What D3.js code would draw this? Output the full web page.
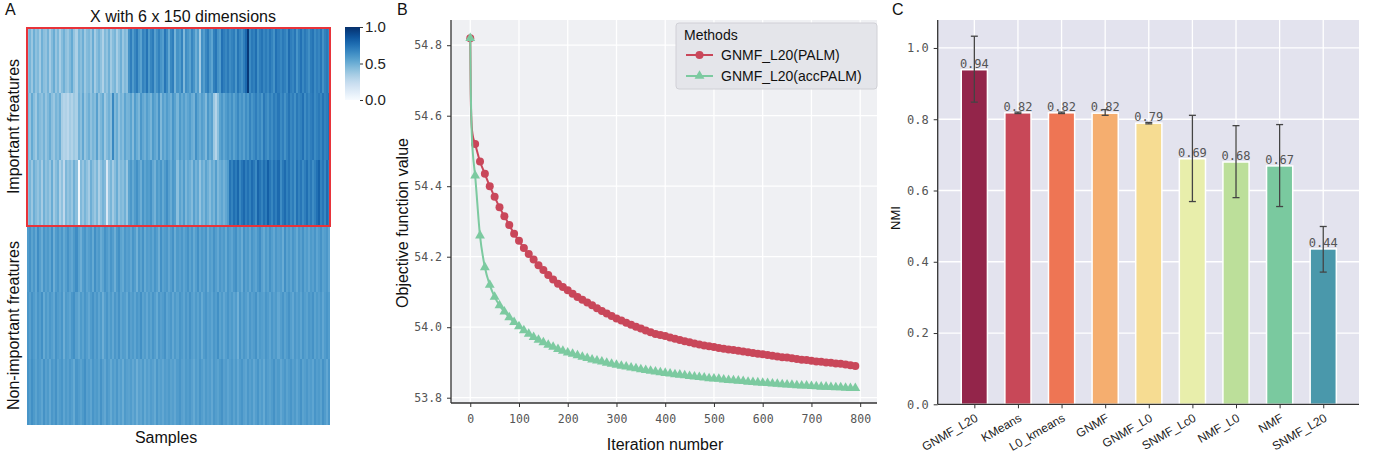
<!DOCTYPE html>
<html><head><meta charset="utf-8">
<script src="https://cdn.jsdelivr.net/npm/d3@7"></script>
<style>
body{margin:0;background:#fff;}
svg{display:block;font-family:"Liberation Sans",Arial,sans-serif;}
</style>
</head><body>
<svg id="c" width="1374" height="460"></svg>
<script>
// ---------- Panel A data: 6 features x 150 samples ----------
const heatRow1 = [.43,.47,.38,.50,.41,.45,.36,.49,.42,.40,.48,.35,.44,.51,.39,.46,.34,.43,.49,.41,.38,.45,.52,.40,.33,.47,.42,.50,.37,.44,.46,.39,.51,.35,.43,.48,.41,.32,.45,.40,.49,.36,.43,.47,.34,.42,.50,.38,.45,.41,
.62,.70,.58,.66,.72,.60,.55,.68,.64,.74,.59,.67,.71,.56,.63,.69,.61,.57,.73,.65,.52,.66,.70,.48,.62,.58,.68,.45,.64,.60,.55,.67,.61,.50,.58,.36,.63,.57,.66,.71,.60,.54,.69,.73,.62,.58,.75,.70,.66,.72,
.64,.68,.71,.60,.74,.67,.62,.70,.78,.97,.65,.72,.69,.76,.63,.70,.74,.67,.71,.66,.73,.68,.62,.75,.70,.66,.72,.69,.64,.77,.70,.67,.73,.61,.69,.75,.66,.72,.68,.63,.71,.74,.65,.70,.67,.73,.62,.69,.72,.66];
const heatRow2 = [.46,.40,.52,.43,.37,.49,.44,.41,.48,.39,.45,.51,.42,.38,.47,.43,.50,.34,.30,.32,.28,.35,.31,.37,.33,.48,.42,.53,.39,.45,.50,.41,.47,.43,.56,.40,.46,.52,.37,.44,.49,.42,.66,.45,.51,.40,.48,.43,.54,.47,
.48,.55,.44,.58,.51,.46,.60,.53,.49,.57,.52,.47,.59,.54,.50,.62,.45,.56,.51,.58,.53,.49,.61,.55,.47,.59,.52,.57,.50,.54,.58,.51,.48,.63,.55,.50,.57,.53,.45,.60,.52,.56,.38,.30,.42,.55,.60,.53,.58,.62,
.57,.63,.55,.60,.66,.58,.62,.56,.64,.59,.68,.61,.65,.70,.63,.67,.60,.72,.66,.62,.69,.64,.71,.67,.73,.65,.70,.62,.68,.74,.66,.70,.63,.72,.67,.69,.75,.64,.71,.66,.70,.73,.65,.69,.72,.67,.74,.68,.71,.75];
const heatRow3 = [.42,.47,.38,.50,.44,.40,.46,.35,.49,.41,.45,.39,.51,.36,.43,.48,.33,.41,.27,.46,.40,.44,.38,.49,.42,.04,.45,.39,.47,.41,.35,.50,.43,.38,.46,.33,.41,.48,.44,.15,.40,.47,.36,.43,.51,.39,.45,.42,.49,.38,
.55,.60,.52,.58,.63,.56,.50,.61,.54,.59,.57,.62,.53,.48,.59,.55,.61,.52,.58,.64,.56,.51,.60,.57,.42,.55,.49,.58,.46,.53,.50,.44,.56,.48,.53,.40,.51,.46,.55,.49,.43,.52,.47,.57,.45,.50,.54,.48,.53,.58,
.74,.68,.76,.71,.79,.66,.73,.78,.70,.75,.69,.77,.72,.65,.80,.74,.68,.76,.71,.82,.73,.67,.75,.70,.78,.64,.72,.77,.69,.74,.66,.71,.62,.75,.68,.73,.65,.70,.76,.67,.72,.64,.69,.75,.81,.68,.73,.66,.77,.70];
const heatRow4 = [.58,.62,.55,.60,.53,.64,.57,.51,.61,.56,.59,.54,.63,.50,.58,.61,.55,.60,.52,.57,.62,.56,.53,.59,.64,.55,.50,.58,.61,.54,.57,.60,.52,.63,.56,.59,.51,.55,.62,.58,.54,.61,.57,.50,.59,.63,.55,.52,.60,.56,
.58,.53,.61,.57,.49,.60,.55,.62,.52,.58,.56,.59,.54,.61,.57,.50,.63,.55,.58,.60,.53,.57,.62,.51,.59,.56,.60,.54,.58,.62,.55,.60,.52,.57,.63,.54,.59,.56,.61,.51,.58,.55,.62,.57,.53,.60,.56,.59,.52,.61,
.57,.54,.60,.63,.55,.58,.51,.62,.56,.59,.53,.61,.57,.54,.60,.64,.56,.52,.59,.55,.62,.57,.53,.60,.56,.58,.51,.63,.55,.59,.54,.61,.57,.52,.60,.56,.62,.55,.58,.53,.59,.56,.61,.54,.58,.62,.55,.57,.60,.53];
const heatRow5 = [.60,.56,.62,.58,.54,.61,.57,.63,.52,.59,.55,.60,.57,.53,.62,.58,.56,.61,.50,.59,.57,.54,.60,.63,.56,.52,.59,.55,.61,.57,.53,.58,.62,.56,.60,.54,.59,.50,.57,.61,.55,.59,.53,.60,.56,.62,.54,.58,.57,.52,
.61,.56,.59,.54,.60,.57,.63,.55,.58,.53,.59,.55,.61,.57,.52,.60,.56,.58,.62,.54,.57,.60,.53,.59,.55,.61,.58,.54,.60,.56,.62,.57,.54,.59,.55,.60,.52,.58,.61,.56,.58,.54,.60,.57,.63,.55,.59,.53,.57,.61,
.56,.59,.54,.58,.49,.61,.55,.60,.57,.53,.60,.56,.58,.62,.54,.59,.57,.55,.61,.58,.54,.60,.56,.59,.53,.57,.61,.55,.58,.62,.57,.53,.60,.56,.59,.54,.61,.57,.55,.60,.58,.62,.55,.59,.56,.60,.53,.58,.61,.57];
const heatRow6 = [.61,.57,.63,.59,.55,.60,.58,.54,.62,.56,.59,.53,.60,.57,.62,.55,.58,.61,.54,.59,.56,.60,.57,.52,.61,.58,.55,.59,.63,.56,.58,.54,.61,.57,.59,.55,.62,.56,.53,.60,.57,.52,.58,.55,.60,.54,.57,.51,.59,.56,
.55,.58,.53,.57,.50,.56,.54,.59,.52,.57,.54,.58,.56,.52,.60,.55,.57,.53,.58,.56,.59,.55,.57,.53,.58,.61,.56,.54,.59,.57,.60,.56,.52,.58,.55,.61,.57,.54,.59,.56,.58,.53,.60,.57,.55,.59,.62,.56,.58,.54,
.57,.60,.55,.59,.53,.58,.61,.56,.54,.60,.56,.59,.53,.57,.61,.55,.58,.52,.60,.57,.55,.58,.62,.56,.59,.53,.57,.60,.55,.58,.61,.56,.59,.54,.58,.62,.55,.57,.60,.56,.58,.54,.61,.57,.59,.55,.62,.58,.53,.60];
const heatRows = [heatRow1, heatRow2, heatRow3, heatRow4, heatRow5, heatRow6];
const colorbarTicks = [0.0, 0.5, 1.0];

// ---------- Panel B data ----------
const iterations = [0,1,2,3,5,10,20,30,40,50,60,70,80,90,100,110,120,130,140,150,160,170,180,190,200,210,220,230,240,250,260,270,280,290,300,310,320,330,340,350,360,370,380,390,400,410,420,430,440,450,460,470,480,490,500,510,520,530,540,550,560,570,580,590,600,610,620,630,640,650,660,670,680,690,700,710,720,730,740,750,760,770,780,790];
const palmValues = [54.82,54.66,54.60,54.57,54.545,54.52,54.47,54.435,54.40,54.37,54.34,54.315,54.29,54.265,54.245,54.225,54.208,54.192,54.176,54.162,54.148,54.135,54.123,54.114,54.105,54.095,54.086,54.078,54.070,54.062,54.054,54.046,54.039,54.032,54.025,54.019,54.013,54.007,54.001,53.996,53.991,53.986,53.981,53.978,53.975,53.971,53.967,53.964,53.960,53.957,53.954,53.951,53.948,53.946,53.944,53.941,53.939,53.937,53.935,53.933,53.931,53.929,53.927,53.925,53.923,53.921,53.919,53.917,53.915,53.914,53.912,53.910,53.908,53.907,53.905,53.903,53.902,53.900,53.899,53.897,53.896,53.894,53.892,53.890];
const accPalmValues = [54.82,54.68,54.60,54.55,54.50,54.43,54.26,54.17,54.12,54.086,54.062,54.044,54.028,54.014,54.002,53.991,53.981,53.972,53.964,53.957,53.950,53.944,53.938,53.933,53.928,53.924,53.920,53.916,53.912,53.908,53.905,53.902,53.899,53.896,53.893,53.890,53.888,53.885,53.883,53.880,53.878,53.876,53.874,53.872,53.870,53.868,53.866,53.865,53.863,53.861,53.860,53.858,53.857,53.855,53.854,53.853,53.851,53.850,53.849,53.848,53.847,53.845,53.844,53.843,53.842,53.841,53.840,53.839,53.838,53.837,53.836,53.835,53.834,53.834,53.833,53.832,53.831,53.831,53.830,53.829,53.829,53.828,53.827,53.827];
const seriesNames = ["GNMF_L20(PALM)", "GNMF_L20(accPALM)"];
const bXTicks = [0,100,200,300,400,500,600,700,800];
const bYTicks = [53.8,54.0,54.2,54.4,54.6,54.8];

// ---------- Panel C data ----------
const methods = ["GNMF_L20","KMeans","L0_kmeans","GNMF","GNMF_L0","SNMF_Lc0","NMF_L0","NMF","SNMF_L20"];
const nmiValues = [0.939,0.818,0.818,0.817,0.789,0.689,0.680,0.669,0.436];
const nmiLow  = [0.848,0.816,0.816,0.811,0.787,0.569,0.580,0.555,0.371];
const nmiHigh = [1.033,0.820,0.820,0.827,0.791,0.811,0.782,0.785,0.499];
const barColors = ["#93254a","#c84858","#ee7554","#f5ae6f","#f6dc92","#e8eeab","#bcdf9a","#7ac99f","#4a98ab"];
const cYTicks = [0.0,0.2,0.4,0.6,0.8,1.0];

const svg = d3.select("#c");
const monoFont = "'DejaVu Sans Mono','Liberation Mono',monospace";

// Panel letters
[["A",5],["B",397],["C",892]].forEach(([t,x]) => {
  svg.append("text").attr("x",x).attr("y",15).attr("font-size",16).attr("fill","#111").text(t);
});

// ===================== Panel A =====================
const hx = d3.scaleBand().domain(d3.range(150)).range([27,330]);
const hy = d3.scaleBand().domain(d3.range(6)).range([27,425]);
const blues = d3.scaleSequential(d3.interpolateBlues).domain([0,1]);
const gA = svg.append("g");
heatRows.forEach((row, r) => {
  gA.selectAll(null).data(row).enter().append("rect")
    .attr("x",(d,i)=>hx(i)).attr("y",hy(r))
    .attr("width",hx.bandwidth()+0.4).attr("height",hy.bandwidth()+0.4)
    .attr("fill",d=>blues(d)).attr("shape-rendering","crispEdges");
});
gA.append("rect").attr("x",hx(0)).attr("y",hy(0)+1)
  .attr("width",hx.range()[1]-hx(0)).attr("height",hy(3)-hy(0)-1)
  .attr("fill","none").attr("stroke","#e8333a").attr("stroke-width",2);
gA.append("text").attr("x",183).attr("y",22).attr("text-anchor","middle").attr("font-size",16).attr("fill","#111").text("X with 6 x 150 dimensions");
gA.append("text").attr("transform","translate(19,"+((hy(0)+hy(3))/2)+") rotate(-90)").attr("text-anchor","middle").attr("font-size",16).attr("fill","#111").text("Important freatures");
gA.append("text").attr("transform","translate(19,"+((hy(3)+425)/2)+") rotate(-90)").attr("text-anchor","middle").attr("font-size",16).attr("fill","#111").text("Non-important freatures");
gA.append("text").attr("x",166).attr("y",443).attr("text-anchor","middle").attr("font-size",16).attr("fill","#111").text("Samples");

// colorbar
const defs = svg.append("defs");
const grad = defs.append("linearGradient").attr("id","cbg").attr("x1",0).attr("y1",1).attr("x2",0).attr("y2",0);
d3.range(0,1.0001,0.05).forEach(t => grad.append("stop").attr("offset",t).attr("stop-color",blues(t)));
const cbY = d3.scaleLinear().domain([0,1]).range([100,27]);
svg.append("rect").attr("x",345).attr("y",cbY(1)).attr("width",15).attr("height",cbY(0)-cbY(1)).attr("fill","url(#cbg)");
const cbAxis = svg.append("g").attr("transform","translate(360,0)")
  .call(d3.axisRight(cbY).tickValues(colorbarTicks).tickFormat(d3.format(".1f")).tickSize(3));
cbAxis.select(".domain").remove();
cbAxis.selectAll("line").attr("stroke","#333");
cbAxis.selectAll("text").attr("font-size",15).attr("fill","#222").attr("font-family","'Liberation Sans',Arial,sans-serif").attr("x",5);

// ===================== Panel B =====================
const bx = d3.scaleLinear().domain([-39.5,834.5]).range([451,877]);
const by = d3.scaleLinear().domain([53.785,54.8715]).range([403,20]);
const gB = svg.append("g");
gB.append("rect").attr("x",451).attr("y",20).attr("width",877-451).attr("height",403-20).attr("fill","#eff0f3");
gB.selectAll(".vg").data(bXTicks).enter().append("line")
  .attr("x1",d=>bx(d)).attr("x2",d=>bx(d)).attr("y1",20).attr("y2",403).attr("stroke","#fff").attr("stroke-width",1.3);
gB.selectAll(".hg").data(bYTicks).enter().append("line")
  .attr("x1",451).attr("x2",877).attr("y1",d=>by(d)).attr("y2",d=>by(d)).attr("stroke","#fff").attr("stroke-width",1.3);

const palmPts = iterations.map((it,i)=>({x:it,y:palmValues[i]}));
const accPts = iterations.map((it,i)=>({x:it,y:accPalmValues[i]}));
const line = d3.line().x(d=>bx(d.x)).y(d=>by(d.y)).curve(d3.curveMonotoneX);
const redC = "#c9475a", greenC = "#7ccaa0";
gB.append("path").datum(palmPts).attr("d",line).attr("fill","none").attr("stroke",redC).attr("stroke-width",2);
gB.selectAll(".pm").data(palmPts.filter(d=>d.x%10===0)).enter().append("circle")
  .attr("cx",d=>bx(d.x)).attr("cy",d=>by(d.y)).attr("r",4).attr("fill",redC);
gB.append("path").datum(accPts).attr("d",line).attr("fill","none").attr("stroke",greenC).attr("stroke-width",2);
const tri = d3.symbol().type(d3.symbolTriangle).size(42);
gB.selectAll(".am").data(accPts.filter(d=>d.x%10===0)).enter().append("path")
  .attr("d",tri).attr("transform",d=>"translate("+bx(d.x)+","+by(d.y)+")").attr("fill",greenC);

const bxAxis = gB.append("g").attr("transform","translate(0,403)")
  .call(d3.axisBottom(bx).tickValues(bXTicks).tickFormat(d3.format("d")).tickSize(4).tickSizeOuter(0));
const byAxis = gB.append("g").attr("transform","translate(451,0)")
  .call(d3.axisLeft(by).tickValues(bYTicks).tickFormat(d3.format(".1f")).tickSize(4).tickSizeOuter(0));
[bxAxis,byAxis].forEach(a=>{
  a.select(".domain").attr("stroke","#333").attr("stroke-width",1.3);
  a.selectAll("line").attr("stroke","#333");
  a.selectAll("text").attr("font-family",monoFont).attr("font-size",11.5).attr("fill","#555");
});
bxAxis.select(".domain").attr("d","M451,0H877");
byAxis.select(".domain").attr("d","M0,20V403");
bxAxis.selectAll("text").attr("dy","1.1em");
byAxis.selectAll("text").attr("x",-9);
gB.append("text").attr("transform","translate(408,223) rotate(-90)").attr("text-anchor","middle").attr("font-size",16).attr("fill","#111").text("Objective function value");
gB.append("text").attr("x",665).attr("y",450).attr("text-anchor","middle").attr("font-size",16).attr("fill","#111").text("Iteration number");

// legend
const lg = gB.append("g");
lg.append("rect").attr("x",676).attr("y",23).attr("width",201).attr("height",66).attr("rx",3)
  .attr("fill","#e4e5ea").attr("stroke","#d0d0d6");
lg.append("text").attr("x",684).attr("y",40).attr("font-size",14).attr("fill","#111").text("Methods");
[[redC,"c"],[greenC,"t"]].forEach(([col,mk],i)=>{
  const yy = 55 + i*21;
  lg.append("line").attr("x1",686).attr("x2",713).attr("y1",yy).attr("y2",yy).attr("stroke",col).attr("stroke-width",2);
  if (mk==="c") lg.append("circle").attr("cx",699.5).attr("cy",yy).attr("r",4).attr("fill",col);
  else lg.append("path").attr("d",tri).attr("transform","translate(699.5,"+yy+")").attr("fill",col);
  lg.append("text").attr("x",721).attr("y",yy+5).attr("font-size",14).attr("fill","#111").text(seriesNames[i]);
});

// ===================== Panel C =====================
const cx = d3.scaleLinear().domain([-0.84,8.82]).range([937.7,1359]);
const cy = d3.scaleLinear().domain([0,1.0785]).range([404.3,20]);
const gC = svg.append("g");
gC.append("rect").attr("x",937.7).attr("y",20).attr("width",1359-937.7).attr("height",404.3-20).attr("fill","#e3e3ee");
gC.selectAll(".vg").data(methods).enter().append("line")
  .attr("x1",(d,i)=>cx(i)).attr("x2",(d,i)=>cx(i)).attr("y1",20).attr("y2",404.3).attr("stroke","#fff").attr("stroke-width",1.3);
gC.selectAll(".hg").data(cYTicks).enter().append("line")
  .attr("x1",937.7).attr("x2",1359).attr("y1",d=>cy(d)).attr("y2",d=>cy(d)).attr("stroke","#fff").attr("stroke-width",1.3);
const bw = (cx(1)-cx(0))*0.6;
gC.selectAll(".bar").data(nmiValues).enter().append("rect")
  .attr("x",(d,i)=>cx(i)-bw/2).attr("y",d=>cy(d)).attr("width",bw).attr("height",d=>cy(0)-cy(d))
  .attr("fill",(d,i)=>barColors[i]).attr("stroke","#fff").attr("stroke-width",1.5);
// error bars
methods.forEach((m,i)=>{
  const x = cx(i);
  gC.append("line").attr("x1",x).attr("x2",x).attr("y1",cy(nmiLow[i])).attr("y2",cy(nmiHigh[i])).attr("stroke","#444").attr("stroke-width",1.3);
  [nmiLow[i],nmiHigh[i]].forEach(v=>gC.append("line").attr("x1",x-3.5).attr("x2",x+3.5).attr("y1",cy(v)).attr("y2",cy(v)).attr("stroke","#444").attr("stroke-width",1.3));
});
gC.selectAll(".vl").data(nmiValues).enter().append("text")
  .attr("x",(d,i)=>cx(i)).attr("y",d=>cy(d)-2).attr("text-anchor","middle")
  .attr("font-family",monoFont).attr("font-size",12).attr("fill","#555").text(d=>d3.format(".2f")(d));

const cyAxis = gC.append("g").attr("transform","translate(937.7,0)")
  .call(d3.axisLeft(cy).tickValues(cYTicks).tickFormat(d3.format(".1f")).tickSize(4).tickSizeOuter(0));
cyAxis.select(".domain").attr("d","M0,20V404.3").attr("stroke","#333").attr("stroke-width",1.3);
cyAxis.selectAll("line").attr("stroke","#333");
cyAxis.selectAll("text").attr("font-family",monoFont).attr("font-size",12).attr("fill","#555").attr("x",-9);
const cxAxis = gC.append("g").attr("transform","translate(0,404.3)")
  .call(d3.axisBottom(cx).tickValues(d3.range(methods.length)).tickFormat(i=>methods[i]).tickSize(4).tickSizeOuter(0));
cxAxis.select(".domain").attr("d","M937.7,0H1359").attr("stroke","#333").attr("stroke-width",1.3);
cxAxis.selectAll("line").attr("stroke","#333");
cxAxis.selectAll("text").attr("font-size",12).attr("fill","#222").attr("text-anchor","end")
  .attr("dy",null).attr("y",0).attr("transform","translate(4,16) rotate(-30)");
gC.append("text").attr("transform","translate(900,218) rotate(-90)").attr("text-anchor","middle").attr("font-size",13).attr("fill","#111").text("NMI");
</script>
</body></html>
